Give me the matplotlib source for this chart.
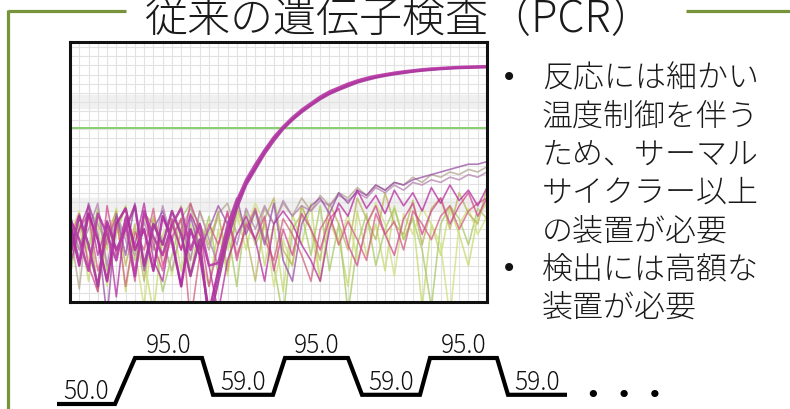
import matplotlib
matplotlib.use('Agg')
import matplotlib.pyplot as plt
import numpy as np

plt.rcParams['font.family'] = ['Noto Sans CJK JP', 'DejaVu Sans']

# ---------------- data ----------------
title = '従来の遺伝子検査（PCR）'
bullet_lines = [
    ('•', '反応には細かい'),
    ('', '温度制御を伴う'),
    ('', 'ため、サーマル'),
    ('', 'サイクラー以上'),
    ('', 'の装置が必要'),
    ('•', '検出には高額な'),
    ('', '装置が必要'),
]

cycles = np.arange(46)
threshold = 67.0

amp_a = [30, 14, 34, 24, 8, 30, 36, 20, 28, 12, 33, 24, 6, 28, 18, -4, 12, 27, 38, 46, 52, 58, 63, 67, 70.5,
         73.5, 76, 78.5, 80.5, 82, 83.5, 84.8, 85.8, 86.6, 87.3, 87.9, 88.4, 88.8, 89.2, 89.5, 89.8, 90, 90.2,
         90.3, 90.4, 90.5]
amp_b = [18, 33, 22, 6, 31, 20, 28, 37, 14, 30, 22, 35, 26, 10, 24, -8, 8, 24, 36, 45, 51, 57, 62, 66.5,
         70, 73, 75.6, 78, 80, 81.6, 83, 84.4, 85.4, 86.3, 87, 87.6, 88.1, 88.6, 89, 89.3, 89.6, 89.8, 90,
         90.1, 90.2, 90.3]
amp_c = [32, 24, 12, 34, 26, 16, 32, 10, 35, 25, 18, 30, 36, 20, 30, 14, 15, 29, 39, 47, 53, 58.5, 63.5,
         67.5, 71, 74, 76.5, 79, 81, 82.5, 84, 85.2, 86.2, 87, 87.6, 88.2, 88.7, 89.1, 89.5, 89.8, 90, 90.2,
         90.4, 90.5, 90.6, 90.7]

noise_a = [28, 5, 36, 30, 22, 33, 26, 18, 34, 30, 24, 12, 28, 36, 30, 20, 34, 38, 26, 31, 24, 36, 30, 38,
           33, 40, 35, 41, 37, 42, 40, 44, 41, 45, 43, 46, 45, 48, 46, 49, 48, 50, 49, 51, 50, 52]
noise_b = [22, 30, 8, 34, 20, 36, 4, 28, 16, -4, 26, 32, 12, 30, 18, 6, 28, 10, 34, 20, 36, 14, 30, 4,
           34, 22, 38, 8, 32, 24, 6, 35, 18, 30, 12, 37, 24, 33, -2, 30, 18, 36, 26, 14, 33, 38]
noise_c = [30, 20, 34, 4, 26, 35, 14, 30, 8, 33, 18, 28, 37, 10, 30, 22, 35, 12, 36, 26, 8, 32, 40, 20,
           14, 37, 28, 16, 38, 30, 20, 40, 32, 24, 42, 30, 26, 39, 22, 36, 40, 28, 42, 34, 30, 44]
noise_d = [10, 30, 20, 36, 12, 26, 37, 16, 33, 24, 4, 18, 32, 38, 20, 33, 10, 28, 6, 35, 22, 30, 14, -6,
           28, 34, 18, 37, 12, 30, -4, 22, 34, 14, 28, 36, 24, 32, 20, -2, 30, 37, 32, 22, 36, 32]
noise_e = [24, 34, 14, 4, 37, 18, 30, 8, 34, 22, 12, 32, 20, 38, 28, 6, 22, 35, 16, 30, 24, 33, 12, 28,
           18, 34, 28, 20, 32, 36, 22, 14, 30, 37, 26, 18, 32, 38, 26, 35, 40, 30, 37, 42, 33, 40]
noise_f = [32, 16, 38, 26, -6, 34, 18, 38, 12, 28, 35, 22, 6, 33, 20, 28, 37, 30, 40, 26, 35, 22, 38, 16,
           8, 30, 37, 40, 34, 42, 38, 43, 41, 45, 43, 46, 45, 47, 48, 49, 50, 51, 52, 53, 53, 54]
noise_g = [14, 28, 37, 18, 30, 2, 33, 22, 38, 16, 8, 30, 20, 34, 26, 14, -4, 16, 26, 33, 24, 8, 30, 35,
           30, 22, 16, 8, 28, 38, 33, 43, 36, 41, 34, 43, 37, 42, 35, 44, 38, 45, 39, 43, 37, 44]
noise_h = [34, 20, 28, 38, 14, 33, 24, 10, 31, 20, 37, 24, 32, 16, 35, 24, 14, 31, 22, 36, 28, 37, 30, 39,
           33, 37, 35, 39, 37, 41, 39, 42, 40, 44, 42, 45, 43, 46, 45, 47, 46, 48, 47, 49, 48, 50]
noise_i = [26, 35, 16, 30, 6, 27, 37, 20, -2, 32, 24, 10, 29, 16, 35, 26, 32, 20, 37, 28, 38, 30, 6, 24,
           14, 37, 28, 8, 31, 22, 34, 16, 28, 38, 30, 10, 34, 26, 36, 30, 22, -6, 30, 36, 26, 33]
noise_j = [18, 28, 34, 12, 24, 33, 6, 27, 20, 36, 14, 25, 32, -8, 18, 30, 22, 34, 18, 28, 36, 24, 16, 32,
           26, 18, 8, 28, 34, 22, 31, 24, 16, 34, 26, 31, 20, 35, 30, 24, 33, 37, 28, 35, 38, 40]

noise_series = [noise_b, noise_d, noise_i, noise_c, noise_a, noise_h, noise_j, noise_e, noise_f, noise_g]
noise_colors = ['#C6DA6C', '#A9C868', '#CFE07E', '#BAB45A', '#B3A58F', '#B482B0', '#D2607E', '#D24A8E',
                '#9950A6', '#B52CA0']
amp_series = [amp_a, amp_b, amp_c]
amp_colors = ['#B0289E', '#A8359C', '#B83CA6']

# temperature profile
profile_temps = [50.0, 95.0, 59.0, 95.0, 59.0, 95.0, 59.0]
profile_holds = [58, 67, 60, 63, 58, 67, 59]
profile_ramps = [20, 11, 12, 14, 10, 11]

# ---------------- figure ----------------
W, H = 790, 410
fig = plt.figure(figsize=(W / 100, H / 100), dpi=100)

ov = fig.add_axes([0, 0, 1, 1])
ov.set_xlim(0, W)
ov.set_ylim(H, 0)
ov.axis('off')

green = '#77933C'
ov.plot([8, 126], [12, 12], color=green, lw=2.3, solid_capstyle='butt')
ov.plot([686, 790], [12, 12], color=green, lw=2.3, solid_capstyle='butt')
ov.plot([8, 8], [10.9, 410], color=green, lw=2.3, solid_capstyle='butt')

ov.text(400, 32, title, ha='center', va='baseline', fontsize=31, color='#1a1a1a',
        fontweight='light')

y0, dy = 78, 38.3
for i, (b, t) in enumerate(bullet_lines):
    y = y0 + i * dy
    if b:
        ov.text(509, y, b, ha='center', va='center', fontsize=20, color='#111111',
                family=['DejaVu Sans'])
    ov.text(542, y, t, ha='left', va='center', fontsize=22.3, color='#1a1a1a', fontweight='light')

# ---------------- amplification plot ----------------
ax = fig.add_axes([70 / W, (H - 303) / H, (487 - 70) / W, (303 - 43) / H])
ax.set_xlim(0, 45)
ax.set_ylim(0, 100)
ax.set_xticks(np.arange(0, 46, 1))
ax.set_yticks(np.arange(0, 101, 3.5))
ax.grid(True, color='#E2E2E2', lw=0.8)
ax.axhspan(74.5, 79.5, color='#F0F0F0', zorder=0)
ax.axhspan(35, 40, color='#F0F0F0', zorder=0)
ax.tick_params(length=0, labelbottom=False, labelleft=False)
for s in ax.spines.values():
    s.set_linewidth(2.2)
    s.set_color('#111111')

for ys, c in zip(noise_series, noise_colors):
    ax.plot(cycles, ys, color=c, lw=1.2, alpha=0.75)
ax.axhline(threshold, color='#88D070', lw=1.4)
for ys, c in zip(amp_series, amp_colors):
    ax.plot(cycles, ys, color=c, lw=1.8, alpha=0.9)

# ---------------- temperature profile ----------------
pa = fig.add_axes([0, 0, 1, 1])
pa.patch.set_alpha(0)
pa.axis('off')
pa.set_xlim(-57, W - 57)
pa.set_ylim(95 - 51 / 1.022, 95 + 359 / 1.022)

tx, ty = [], []
t = 0.0
for i, temp in enumerate(profile_temps):
    tx += [t, t + profile_holds[i]]
    ty += [temp, temp]
    mid = t + profile_holds[i] / 2
    pa.annotate(f'{temp:.1f}', (mid, temp), xytext=(0, 4.3), textcoords='offset points',
                ha='center', va='baseline', fontsize=17.7, color='#111111', fontweight='light')
    t += profile_holds[i]
    if i < len(profile_ramps):
        t += profile_ramps[i]
pa.plot(tx, ty, color='black', lw=3, solid_joinstyle='miter', solid_capstyle='butt')
pa.text(t + 57, 59.0, '•  •  •', ha='center', va='center', fontsize=18, color='black',
        family=['DejaVu Sans'])

fig.savefig('out.png', dpi=100)
